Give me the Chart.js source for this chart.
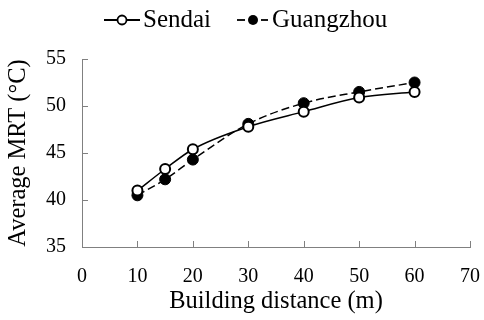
<!DOCTYPE html>
<html>
<head>
<meta charset="utf-8">
<script src="https://cdn.jsdelivr.net/npm/chart.js@4"></script>
<style>
  body { margin: 0; background: #fff; }
  #wrap { width: 484px; height: 320px; }
</style>
</head>
<body>
<div id="wrap"><canvas id="myChart" width="484" height="320"></canvas></div>
<script>
const distances = [10, 15, 20, 30, 40, 50, 60];
const sendai = [41.0, 43.3, 45.4, 47.8, 49.4, 50.9, 51.5];
const guangzhou = [40.5, 42.2, 44.3, 48.1, 50.3, 51.5, 52.5];
const xTicks = [0, 10, 20, 30, 40, 50, 60, 70];
const yTicks = [35, 40, 45, 50, 55];

const serif = "'Liberation Serif', 'DejaVu Serif', serif";
const axisGray = "#808080";

function toPoints(ys) {
  return distances.map((d, i) => ({ x: d, y: ys[i] }));
}

// ticks pointing inward, as in the original figure
const innerTicks = {
  id: "innerTicks",
  afterDraw(chart) {
    const ctx = chart.ctx;
    const x = chart.scales.x, y = chart.scales.y;
    ctx.save();
    ctx.strokeStyle = axisGray;
    ctx.lineWidth = 1;
    for (const v of xTicks) {
      if (v === 0) continue;
      const px = Math.round(x.getPixelForValue(v)) + 0.5;
      ctx.beginPath(); ctx.moveTo(px, y.bottom); ctx.lineTo(px, y.bottom - 6); ctx.stroke();
    }
    for (const v of yTicks) {
      if (v === 35) continue;
      const py = Math.round(y.getPixelForValue(v)) + 0.5;
      ctx.beginPath(); ctx.moveTo(x.left, py); ctx.lineTo(x.left + 6, py); ctx.stroke();
    }
    ctx.restore();
  }
};

// legend drawn by hand: line + marker + label
const lineLegend = {
  id: "lineLegend",
  afterDraw(chart) {
    const ctx = chart.ctx;
    const ds = chart.data.datasets;
    const cy = 20;
    ctx.save();
    ctx.strokeStyle = "#000";
    ctx.lineWidth = 1.8;
    // Sendai
    ctx.beginPath(); ctx.moveTo(104, cy); ctx.lineTo(140, cy); ctx.stroke();
    ctx.beginPath(); ctx.arc(122, cy, 4.5, 0, Math.PI * 2);
    ctx.fillStyle = "#fff"; ctx.fill(); ctx.stroke();
    // Guangzhou
    ctx.beginPath(); ctx.moveTo(237, cy); ctx.lineTo(245, cy); ctx.stroke();
    ctx.beginPath(); ctx.moveTo(261, cy); ctx.lineTo(268, cy); ctx.stroke();
    ctx.beginPath(); ctx.arc(253, cy, 5, 0, Math.PI * 2);
    ctx.fillStyle = "#000"; ctx.fill();
    ctx.font = "25px " + serif;
    ctx.fillStyle = "#000";
    ctx.textBaseline = "middle";
    ctx.textAlign = "left";
    ctx.fillText(ds[0].label, 143, cy);
    ctx.fillText(ds[1].label, 272, cy);
    ctx.restore();
  }
};

const ctx = document.getElementById("myChart").getContext("2d");
const myChart = new Chart(ctx, {
  type: "line",
  data: {
    datasets: [
      {
        label: "Sendai",
        data: toPoints(sendai),
        borderColor: "#000",
        borderWidth: 1.5,
        pointRadius: 5,
        pointBorderWidth: 2,
        pointBackgroundColor: "#fff",
        pointBorderColor: "#000",
        tension: 0.4,
        cubicInterpolationMode: "monotone"
      },
      {
        label: "Guangzhou",
        data: toPoints(guangzhou),
        borderColor: "#000",
        borderWidth: 1.5,
        borderDash: [8, 4],
        pointRadius: 5.5,
        pointBorderWidth: 1,
        pointBackgroundColor: "#000",
        pointBorderColor: "#000",
        tension: 0.4,
        cubicInterpolationMode: "monotone"
      }
    ]
  },
  options: {
    responsive: false,
    animation: false,
    layout: { padding: { left: 0, right: 14, top: 59, bottom: 4 } },
    plugins: {
      tooltip: { enabled: false },
      legend: { display: false }
    },
    scales: {
      x: {
        type: "linear",
        min: 0,
        max: 70,
        afterBuildTicks(scale) { scale.ticks = xTicks.map(v => ({ value: v })); },
        grid: { display: false },
        border: { color: axisGray, width: 1 },
        ticks: { color: "#000", font: { family: serif, size: 20 }, padding: 10 },
        title: { display: true, text: "Building distance (m)", color: "#000", font: { family: serif, size: 24.5 }, padding: { top: 0, bottom: 0 } },
        afterFit(scale) {
          scale.height = 69;
          scale.paddingLeft = 0;
          scale.paddingRight = 0;
        }
      },
      y: {
        min: 35,
        max: 55,
        afterBuildTicks(scale) { scale.ticks = yTicks.map(v => ({ value: v })); },
        grid: { display: false },
        border: { color: axisGray, width: 1 },
        ticks: { color: "#000", font: { family: serif, size: 20 }, padding: 8 },
        title: { display: true, text: "Average MRT (°C)", color: "#000", font: { family: serif, size: 24.5 }, padding: { top: 4, bottom: 2 } },
        afterFit(scale) {
          scale.width = 82;
          scale.paddingTop = 0;
          scale.paddingBottom = 0;
        }
      }
    }
  },
  plugins: [innerTicks, lineLegend]
});
</script>
</body>
</html>
